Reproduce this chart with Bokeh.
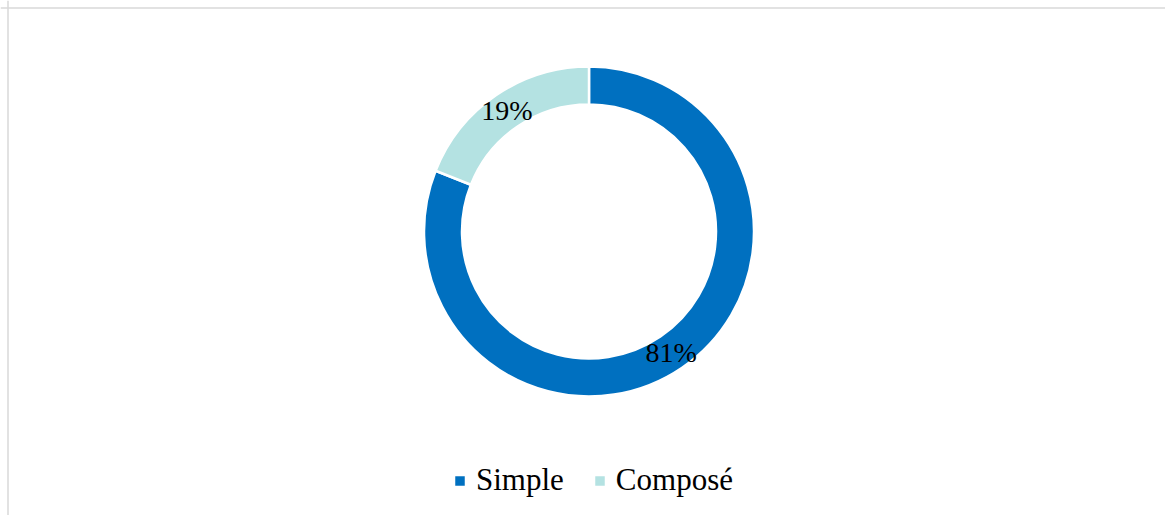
import math
from bokeh.plotting import figure
from bokeh.models import ColumnDataSource, Range1d, Legend, LegendItem, Span
from bokeh.core.properties import value
from bokeh.embed import file_html
from bokeh.resources import INLINE

categories = ["Simple", "Composé"]
values = [81, 19]
colors = ["#0070C0", "#B4E2E2"]

W, H = 1165, 515
cx, cy = 588.5, H - 231
r_out, r_in = 165, 127

total = sum(values)
starts, ends, mids, labels = [], [], [], []
a = math.pi / 2
for v in values:
    sweep = 2 * math.pi * v / total
    starts.append(a)
    ends.append(a - sweep)
    mids.append(a - sweep / 2)
    labels.append(f"{round(100 * v / total)}%")
    a -= sweep

r_mid = (r_out + r_in) / 2
src = ColumnDataSource(dict(
    cat=categories, val=values, color=colors,
    start=starts, end=ends,
    x=[cx] * len(values), y=[cy] * len(values),
    lx=[cx + r_mid * math.cos(m) for m in mids],
    ly=[cy + r_mid * math.sin(m) for m in mids],
    label=labels,
))

p = figure(width=W, height=H, output_backend="svg", toolbar_location=None,
           x_range=Range1d(0, W), y_range=Range1d(0, H),
           min_border=0, min_border_left=0, min_border_right=0,
           min_border_top=0, min_border_bottom=0)
p.axis.visible = False
p.grid.visible = False
p.outline_line_color = None
p.background_fill_color = "white"
p.border_fill_color = "white"

wedges = p.annular_wedge(x="x", y="y", inner_radius=r_in, outer_radius=r_out,
                         inner_radius_units="screen", outer_radius_units="screen",
                         start_angle="start", end_angle="end", direction="clock",
                         fill_color="color", line_color="white", line_width=2.5,
                         source=src)

p.text(x="lx", y="ly", text="label", source=src,
       text_font=value("Liberation Serif"), text_font_size="28px",
       text_color="#000000", text_align="center", text_baseline="middle")

p.add_layout(Span(location=7.5, dimension="height", line_color="#D9D9D9", line_width=1.5))
p.add_layout(Span(location=H - 7.5, dimension="width", line_color="#D9D9D9", line_width=1.5))

items = [LegendItem(label=c, renderers=[wedges], index=i) for i, c in enumerate(categories)]
legend = Legend(items=items, orientation="horizontal", location=(452, 17),
                glyph_width=15, glyph_height=15, label_standoff=9, spacing=28,
                padding=0, margin=0, border_line_color=None, background_fill_alpha=0,
                label_text_font="Liberation Serif", label_text_font_size="31px",
                label_text_color="#000000")
p.add_layout(legend)

open("out.html", "w").write(file_html(p, INLINE))
